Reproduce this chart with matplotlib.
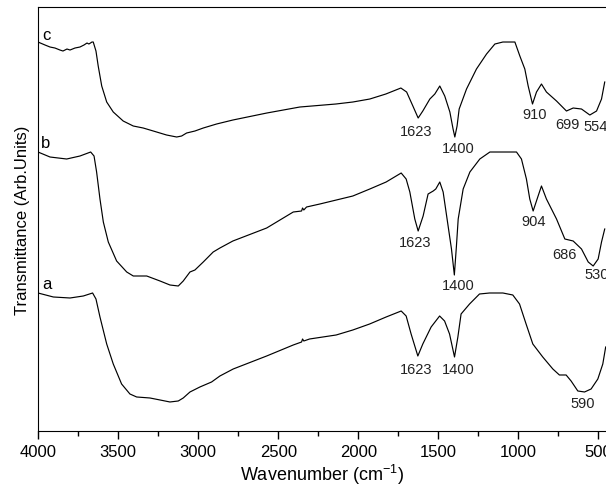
import matplotlib.pyplot as plt
from matplotlib.ticker import MultipleLocator

plt.rcParams['font.family'] = ['Liberation Sans', 'DejaVu Sans']
plt.rcParams['mathtext.default'] = 'regular'

# spectrum c (top)
wn_c = [4000, 3956, 3925, 3894, 3863, 3844, 3819, 3800, 3769, 3738, 3713, 3694, 3682, 3663,
        3655, 3638, 3624, 3602, 3571, 3530, 3468, 3405, 3343, 3280, 3197, 3134, 3103, 3072,
        3020, 2968, 2885, 2783, 2571, 2365, 2140, 2034, 1928, 1828, 1734, 1698, 1659, 1626,
        1597, 1553, 1522, 1491, 1460, 1428, 1408, 1397, 1383, 1370, 1324, 1262, 1199, 1147,
        1097, 1022, 991, 960, 939, 912, 887, 856, 825, 762, 700, 658, 606, 554, 512, 481, 461]
t_c = [389, 386, 384, 383, 381, 380, 382, 381, 383, 384, 386, 388, 387, 389,
       389, 380, 365, 345, 329, 319, 310, 305, 303, 300, 296, 294, 295, 298,
       300, 303, 307, 311, 318, 324, 327, 329, 332, 337, 343, 339, 325, 313,
       320, 332, 337, 345, 335, 319, 302, 294, 305, 322, 342, 362, 377, 387,
       389, 389, 375, 362, 345, 327, 339, 347, 339, 330, 320, 323, 322, 316, 320, 332, 349]

# spectrum b (middle)
wn_b = [4000, 3925, 3821, 3738, 3671, 3650, 3634, 3613, 3592, 3561, 3509, 3446, 3405, 3321,
        3238, 3176, 3124, 3093, 3051, 3020, 2968, 2906, 2864, 2783, 2572, 2406, 2354, 2348,
        2340, 2323, 2240, 2034, 1928, 1826, 1732, 1701, 1678, 1647, 1626, 1595, 1564, 1532,
        1516, 1491, 1470, 1439, 1418, 1400, 1387, 1376, 1345, 1303, 1241, 1178, 1116, 1012,
        981, 950, 929, 908, 877, 856, 825, 762, 710, 658, 606, 564, 533, 502, 481, 461]
t_b = [279, 274, 272, 275, 279, 275, 259, 232, 209, 189, 170, 159, 155, 155,
       150, 146, 145, 150, 159, 161, 169, 179, 183, 190, 203, 219, 220, 223,
       221, 224, 227, 235, 242, 249, 258, 252, 239, 212, 200, 215, 237, 240,
       242, 249, 239, 205, 182, 156, 185, 212, 242, 259, 272, 279, 279, 279,
       272, 252, 232, 220, 235, 245, 232, 212, 192, 190, 182, 169, 165, 172, 189, 202]

# spectrum a (bottom)
wn_a = [4000, 3904, 3800, 3717, 3659, 3638, 3613, 3571, 3530, 3478, 3426, 3384, 3301, 3238,
        3176, 3124, 3093, 3051, 2989, 2916, 2864, 2781, 2572, 2406, 2354, 2348, 2340, 2304,
        2138, 2034, 1929, 1826, 1732, 1701, 1670, 1628, 1597, 1545, 1492, 1461, 1430, 1399,
        1378, 1358, 1305, 1243, 1180, 1097, 1035, 993, 952, 910, 848, 785, 744, 702, 671,
        629, 587, 546, 504, 473, 455]
t_a = [138, 134, 133, 135, 138, 132, 114, 87, 67, 47, 37, 34, 33, 31,
       29, 30, 33, 39, 44, 49, 55, 62, 75, 86, 89, 92, 90, 92,
       96, 101, 107, 114, 120, 115, 97, 75, 87, 104, 115, 110, 97, 74,
       94, 117, 127, 137, 138, 138, 136, 127, 107, 87, 74, 62, 56, 56, 50,
       40, 39, 42, 52, 67, 84]

# peak labels: (text, wavenumber, y)
peaks = [('1623', 1638, 300), ('1400', 1378, 283), ('910', 896, 317), ('699', 692, 307),
         ('554', 517, 305),
         ('1623', 1647, 189), ('1400', 1378, 146), ('904', 908, 210), ('686', 710, 177),
         ('530', 512, 157),
         ('1623', 1638, 62), ('1400', 1378, 62), ('590', 598, 28)]
names = [('c', 3946, 397), ('b', 3950, 289), ('a', 3946, 147)]

fig = plt.figure(figsize=(6.06, 4.89), dpi=100)
ax = fig.add_axes([0.0627, 0.1166, 0.9373, 0.867])

for wn, t in [(wn_c, t_c), (wn_b, t_b), (wn_a, t_a)]:
    ax.plot(wn, t, color='black', lw=0.85, solid_joinstyle='round')

for txt, x, y in peaks:
    ax.text(x, y, txt, fontsize=10.5, ha='center', va='center', color='#222222')
for txt, x, y in names:
    ax.text(x, y, txt, fontsize=12, ha='center', va='center')

ax.set_xlim(4000, 453)
ax.set_ylim(0, 424)
ax.xaxis.set_major_locator(MultipleLocator(500))
ax.xaxis.set_minor_locator(MultipleLocator(250))
ax.tick_params(axis='x', which='major', direction='out', length=6, width=1, labelsize=12)
ax.tick_params(axis='x', which='minor', direction='out', length=3.5, width=1)
ax.set_yticks([])
ax.spines['right'].set_visible(False)
ax.set_xlabel('Wavenumber (cm$^{-1}$)', fontsize=13, labelpad=2)
ax.set_ylabel('Transmittance (Arb.Units)', fontsize=12, labelpad=6)

plt.savefig('out.png', dpi=100)
